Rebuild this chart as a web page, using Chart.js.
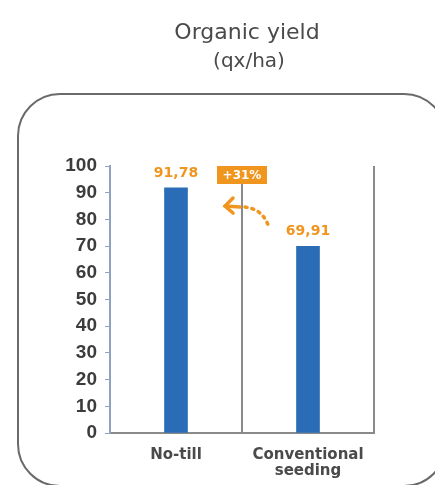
<!DOCTYPE html>
<html>
<head>
<meta charset="utf-8">
<script src="https://cdn.jsdelivr.net/npm/chart.js@4"></script>
<style>
  html, body { margin: 0; padding: 0; background: #fff; }
  #wrap { width: 435px; height: 485px; }
</style>
</head>
<body>
<div id="wrap"><canvas id="chart"></canvas></div>
<script>
// datos
const categories = [['No-till'], ['Conventional', 'seeding']];
const yieldValues = [91.78, 69.91];
const titleLines = ['Organic yield', '(qx/ha)'];
const gainLabel = '+31%';

const ORANGE = '#f0951e';
const BLUE = '#2b6cb6';
const WIDE = '"DejaVu Sans", Verdana, sans-serif';

// marco redondeado + títulos
const framePlugin = {
    id: 'frame',
    beforeDraw(chart) {
        const ctx = chart.ctx;
        ctx.save();
        ctx.fillStyle = '#fff';
        ctx.fillRect(0, 0, chart.width, chart.height);
        ctx.strokeStyle = '#6a6a6a';
        ctx.lineWidth = 2;
        ctx.beginPath();
        ctx.roundRect(18, 94, 428, 392, 42);
        ctx.stroke();

        ctx.fillStyle = '#4a4a4a';
        ctx.textAlign = 'center';
        ctx.textBaseline = 'middle';
        ctx.font = '22px ' + WIDE;
        ctx.fillText(titleLines[0], 247, 33);
        ctx.font = '20px ' + WIDE;
        ctx.fillText(titleLines[1], 249, 62);
        ctx.restore();
    }
};

// etiquetas de valor, recuadro +31% y flecha
const annotPlugin = {
    id: 'annot',
    afterDatasetsDraw(chart) {
        const ctx = chart.ctx;
        const xs = chart.scales.x;
        const ys = chart.scales.y;
        const meta = chart.getDatasetMeta(0);
        ctx.save();

        ctx.fillStyle = ORANGE;
        ctx.font = 'bold 14px ' + WIDE;
        ctx.textAlign = 'center';
        ctx.textBaseline = 'alphabetic';
        meta.data.forEach((bar, i) => {
            const txt = yieldValues[i].toFixed(2).replace('.', ',');
            ctx.fillText(txt, bar.x, bar.y - 11);
        });

        // recuadro naranja sobre la línea central
        const mid = xs.getPixelForValue(0.5);
        const top = chart.chartArea.top;
        ctx.fillStyle = ORANGE;
        ctx.fillRect(mid - 25, top, 50, 18);
        ctx.fillStyle = '#fff';
        ctx.textBaseline = 'middle';
        ctx.font = 'bold 12px ' + WIDE;
        ctx.fillText(gainLabel, mid, top + 9.5);

        // flecha punteada curva
        const yHead = ys.getPixelForValue(85);
        const yTail = ys.getPixelForValue(78);
        const hx = mid - 17;
        ctx.strokeStyle = ORANGE;
        ctx.lineWidth = 3.5;
        ctx.lineCap = 'round';
        ctx.setLineDash([2, 5]);
        ctx.beginPath();
        ctx.moveTo(mid + 3, yHead + 1);
        ctx.quadraticCurveTo(mid + 20, yHead + 3, mid + 26, yTail);
        ctx.stroke();
        ctx.setLineDash([]);
        ctx.beginPath();
        ctx.moveTo(hx, yHead);
        ctx.lineTo(mid - 2, yHead + 1);
        ctx.stroke();
        ctx.beginPath();
        ctx.moveTo(hx + 8, yHead - 8);
        ctx.lineTo(hx, yHead);
        ctx.lineTo(hx + 8, yHead + 7);
        ctx.stroke();
        ctx.restore();
    }
};

const ctx = document.getElementById('chart').getContext('2d');
new Chart(ctx, {
    type: 'bar',
    data: {
        labels: categories,
        datasets: [{
            data: yieldValues,
            backgroundColor: BLUE,
            barThickness: 23
        }]
    },
    options: {
        responsive: true,
        maintainAspectRatio: false,
        animation: false,
        layout: { padding: { left: 0, right: 61, top: 166, bottom: 0 } },
        plugins: {
            legend: { display: false },
            tooltip: { enabled: false }
        },
        scales: {
            x: {
                afterFit: (s) => { s.height = 52; },
                grid: {
                    offset: true,
                    drawTicks: false,
                    lineWidth: 2,
                    color: (c) => (c.index === 0 ? 'rgba(0,0,0,0)' : '#8a8a8a')
                },
                border: { color: '#8a8a8a', width: 2 },
                ticks: {
                    padding: 14,
                    color: '#4a4a4a',
                    font: { family: WIDE, size: 15, weight: 'bold', lineHeight: 1.05 }
                }
            },
            y: {
                min: 0,
                max: 100,
                afterFit: (s) => { s.width = 110; },
                ticks: {
                    stepSize: 10,
                    autoSkip: false,
                    padding: 8,
                    color: '#3c3c3c',
                    font: { family: '"Liberation Sans", Arial, sans-serif', size: 19, weight: 'bold', lineHeight: 1 }
                },
                grid: {
                    drawOnChartArea: false,
                    tickLength: 5,
                    color: '#8fa3c0'
                },
                border: { color: '#8fa3c0', width: 2 }
            }
        }
    },
    plugins: [framePlugin, annotPlugin]
});
</script>
</body>
</html>
